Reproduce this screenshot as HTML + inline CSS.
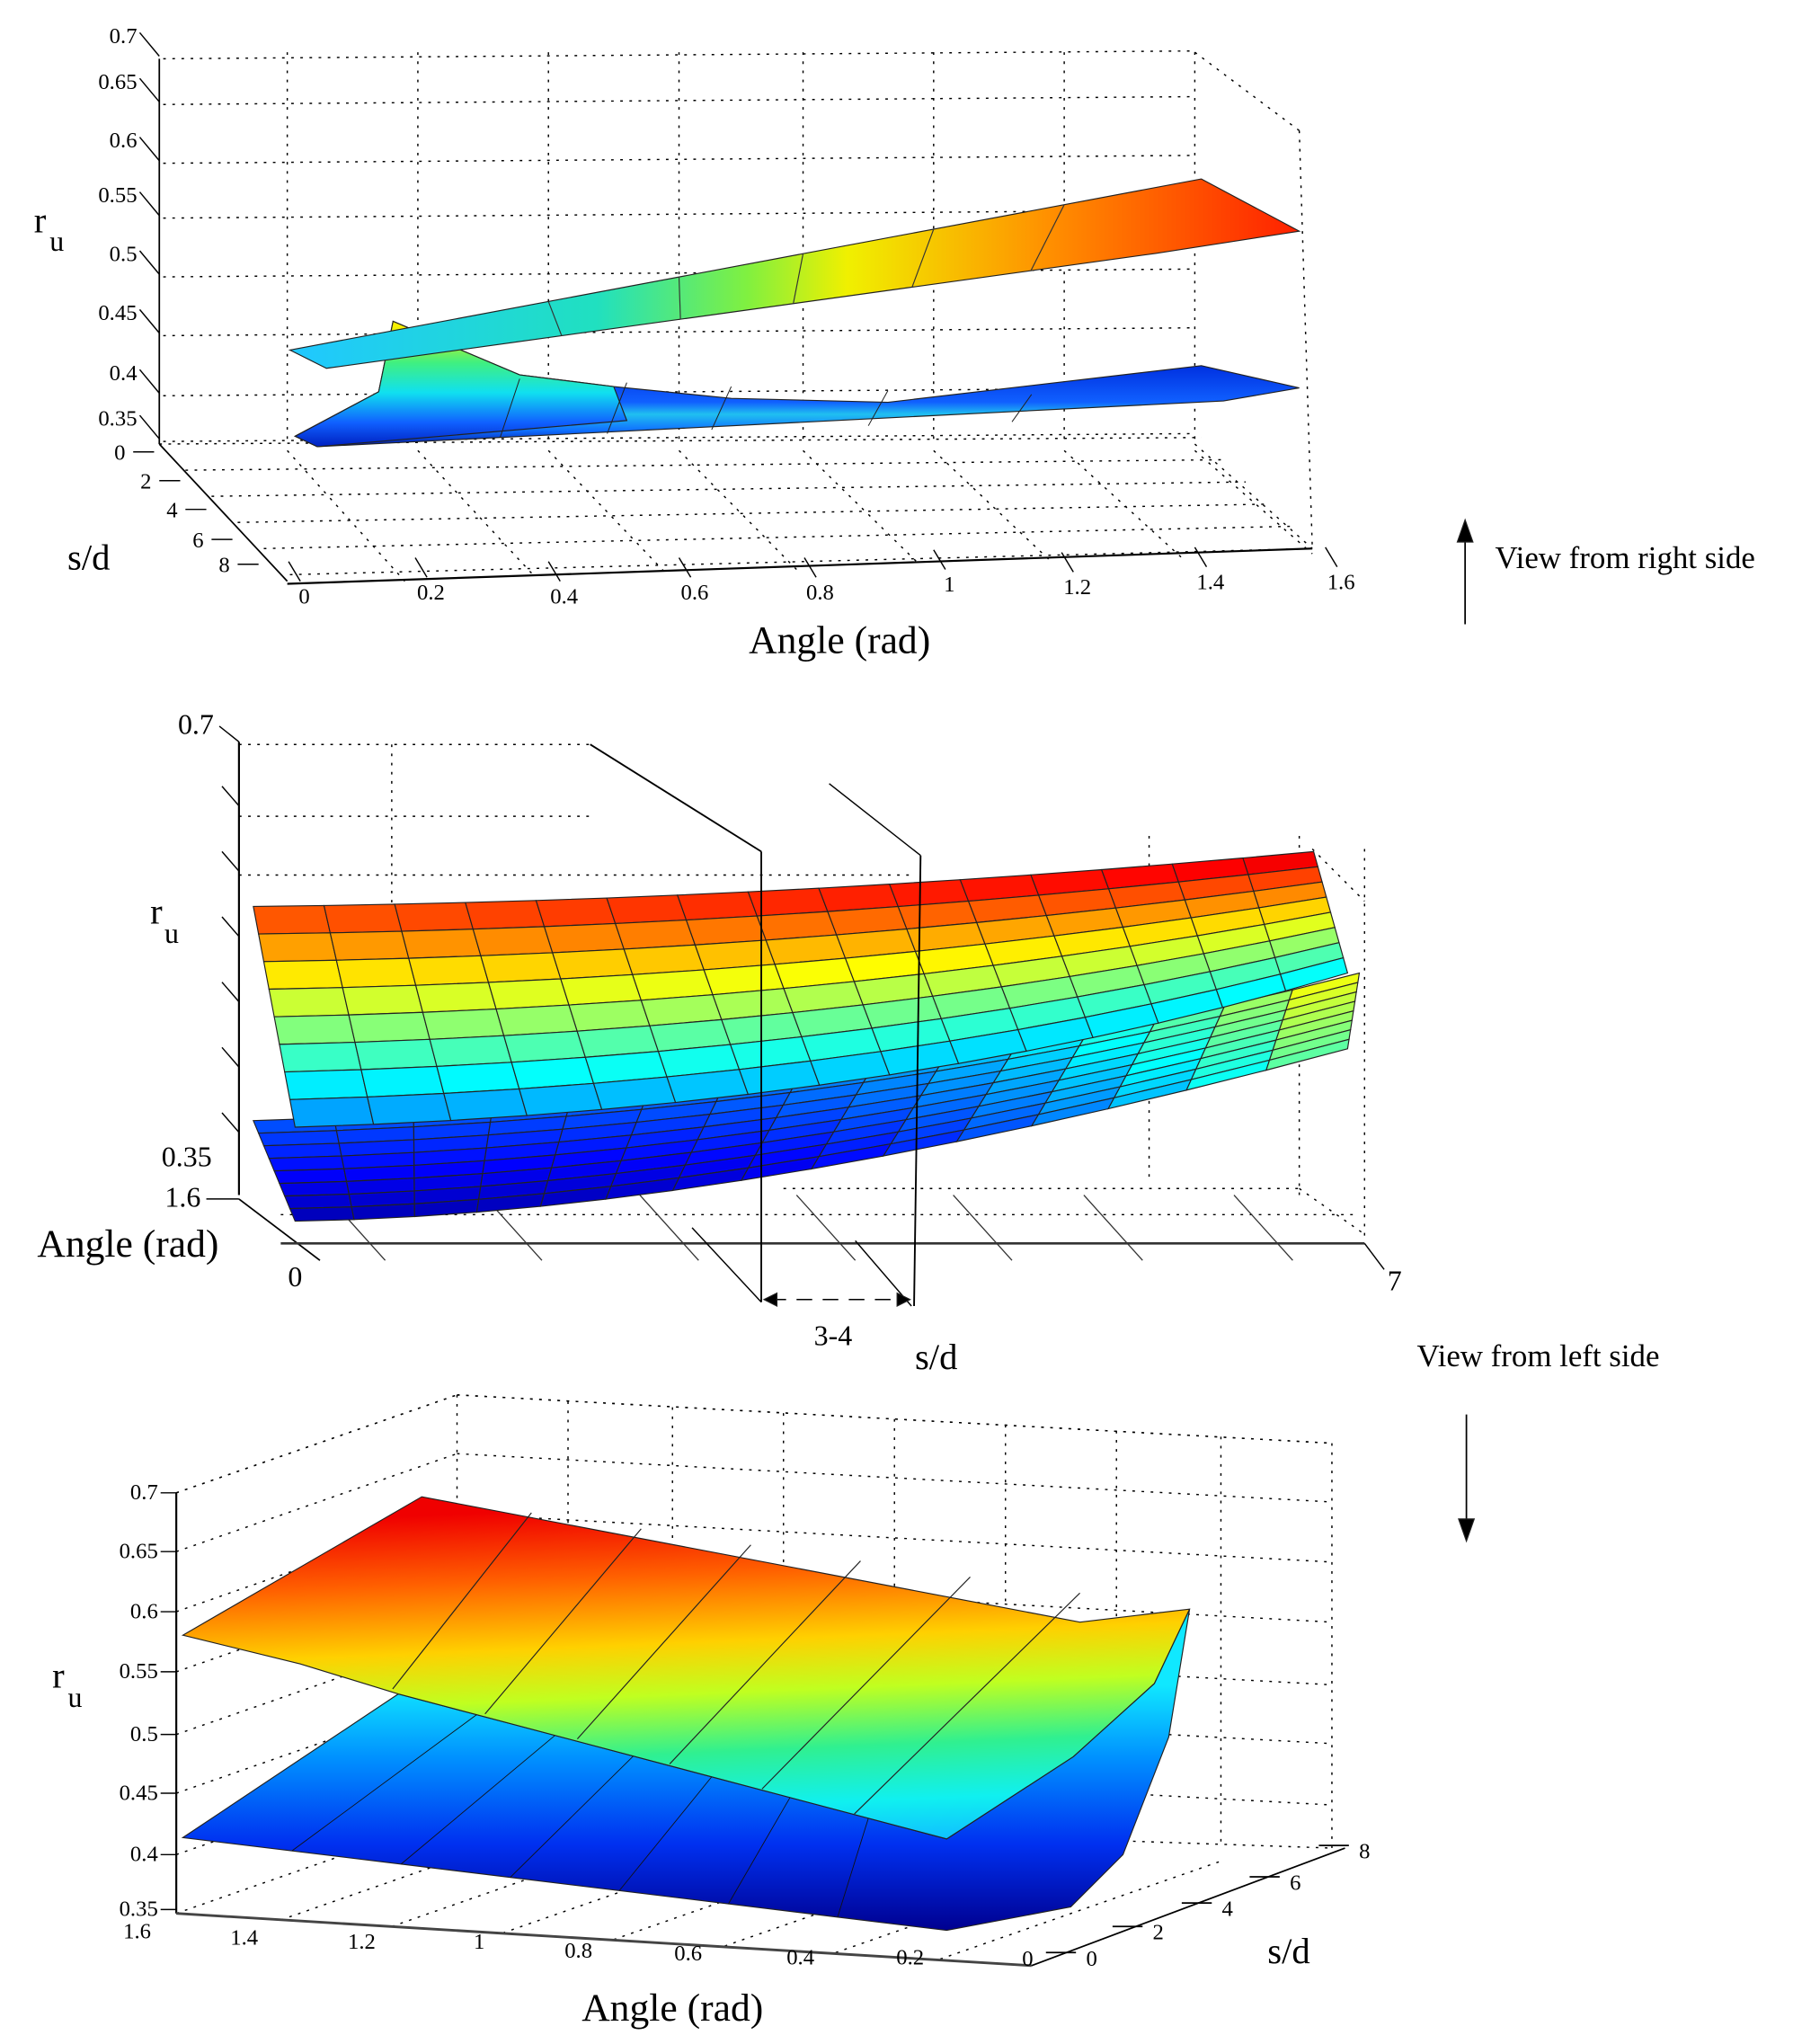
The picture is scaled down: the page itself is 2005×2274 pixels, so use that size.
<!DOCTYPE html>
<html><head><meta charset="utf-8"><style>
html,body{margin:0;padding:0;background:#fff}
svg{display:block}
text{font-family:"Liberation Serif",serif;fill:#000}
</style></head><body>
<svg id="s" width="2005" height="2274" viewBox="0 0 1380 1565" preserveAspectRatio="none" xmlns="http://www.w3.org/2000/svg">
<defs>
<linearGradient id="g1" x1="226" y1="0" x2="995" y2="0" gradientUnits="userSpaceOnUse">
<stop offset="0" stop-color="#20c8ff"/><stop offset="0.3" stop-color="#20e0c0"/><stop offset="0.45" stop-color="#80f040"/><stop offset="0.55" stop-color="#f0f000"/><stop offset="0.75" stop-color="#ff9000"/><stop offset="1" stop-color="#ff2000"/></linearGradient>
<linearGradient id="g2" x1="0" y1="250" x2="0" y2="342" gradientUnits="userSpaceOnUse">
<stop offset="0" stop-color="#f8f000"/><stop offset="0.3" stop-color="#40f080"/><stop offset="0.55" stop-color="#10e0f0"/><stop offset="0.8" stop-color="#1060ff"/><stop offset="1" stop-color="#0020c0"/></linearGradient>
<linearGradient id="g2b" x1="0" y1="280" x2="0" y2="342" gradientUnits="userSpaceOnUse">
<stop offset="0" stop-color="#0030e0"/><stop offset="0.45" stop-color="#1060ff"/><stop offset="0.6" stop-color="#20c0f0"/><stop offset="0.8" stop-color="#1070ff"/><stop offset="1" stop-color="#0010a0"/></linearGradient>
<linearGradient id="g3" x1="330" y1="1160" x2="341" y2="1424" gradientUnits="userSpaceOnUse">
<stop offset="0" stop-color="#f00000"/><stop offset="0.2" stop-color="#ff6000"/><stop offset="0.4" stop-color="#ffd000"/><stop offset="0.55" stop-color="#c0ff20"/><stop offset="0.72" stop-color="#30f090"/><stop offset="0.88" stop-color="#10f0f0"/><stop offset="1" stop-color="#10c0ff"/></linearGradient>
<linearGradient id="g4" x1="0" y1="1290" x2="0" y2="1478" gradientUnits="userSpaceOnUse">
<stop offset="0" stop-color="#10e8ff"/><stop offset="0.3" stop-color="#0090ff"/><stop offset="0.65" stop-color="#0030f0"/><stop offset="1" stop-color="#000090"/></linearGradient>
</defs>
<g id="grid" stroke="#555" stroke-width="0.8" stroke-dasharray="2,5" fill="none"></g>
<g id="main" font-size="17"></g>
</svg>
<script>
var S=document.getElementById('s'),G=document.getElementById('grid'),M=document.getElementById('main');
var NS='http://www.w3.org/2000/svg';
function el(p,t,a,txt){var e=document.createElementNS(NS,t);for(var k in a)e.setAttribute(k,a[k]);if(txt!==undefined)e.textContent=txt;p.appendChild(e);return e;}
function L(p,x1,y1,x2,y2,w,c){el(p,'line',{x1:x1,y1:y1,x2:x2,y2:y2,stroke:c||'#000','stroke-width':w||1});}
function T(x,y,s,fs,anc){return el(M,'text',{x:x,y:y,'font-size':fs||17,'text-anchor':anc||'middle'},s);}
function P(pts,fill,p,sw){el(p||M,'polygon',{points:pts.map(function(q){return q.join(',')}).join(' '),fill:fill,stroke:'#222','stroke-width':sw===undefined?0.8:sw});}
function jet(v){v=Math.max(0,Math.min(1,v));function c(x){return Math.round(255*Math.max(0,Math.min(1,x)));}
return 'rgb('+c(1.5-Math.abs(4*v-3))+','+c(1.5-Math.abs(4*v-2))+','+c(1.5-Math.abs(4*v-1))+')';}
// ===== PANEL 1 =====
var zl=[[0.7,33],[0.65,68],[0.6,113],[0.55,155],[0.5,200],[0.45,245],[0.4,291],[0.35,326]];
zl.forEach(function(z){T(105,z[1],z[0],17,'end');L(M,107,z[1]-8,122,z[1]+10,1);L(G,125,z[1]+12,915,z[1]+6);});
L(M,122,45,122,340,1.2);
[220,320,420,520,615,715,815,915].forEach(function(x){L(G,x,40,x,340);});
L(G,915,40,995,100);L(G,995,100,1005,420);L(G,915,340,1005,420);
for(var i=0;i<6;i++){L(G,122+20*i,340+20*i,920+17*i,335+17*i);}
[220,320,420,520,615,715,815,915].forEach(function(x,i){L(G,x,345,x+90,445-i*3);});
L(M,122,340,220,445,1.2);L(M,220,447,1005,420,1.5);
[['0',348],['2',370],['4',392],['6',415],['8',434]].forEach(function(a,i){T(96+i*20,a[1]+4,a[0],17,'end');L(M,102+i*20,a[1]-2,118+i*20,a[1]-2,1);});
[['0',233,462],['0.2',330,459],['0.4',432,462],['0.6',532,459],['0.8',628,459],['1',727,453],['1.2',825,455],['1.4',927,451],['1.6',1027,451]].forEach(function(a){T(a[1],a[2],a[0],17);L(M,a[1]-12,a[2]-32,a[1]-3,a[2]-17,1);});
T(68,436,'s/d',28);T(643,500,'Angle (rad)',30);
el(M,'text',{x:26,y:178,'font-size':28},'r');el(M,'text',{x:38,y:192,'font-size':22},'u');
P([[226,334],[290,300],[301,246],[398,287],[470,296],[560,305],[680,308],[920,280],[995,297],[937,307],[243,342]],'url(#g2b)');
P([[226,334],[290,300],[301,246],[398,287],[470,296],[480,322],[243,342]],'url(#g2)');
[398,480,560,680,790].forEach(function(x,i){L(M,x,290+i*3,x-15,335-i*3,0.7,'#222');});
P([[222,268],[920,137],[995,177],[885,194],[250,282]],'url(#g1)');
[420,520,615,715,815].forEach(function(x){var t=(x-222)/(920-222);L(M,222+t*698,268-t*131,250+t*635,282-t*88,0.8,'#333');});
L(M,1122,478,1122,410,1.2);P([[1116,415],[1122,398],[1128,415]],'#000');
T(1145,435,'View from right side',24,'start');
// ===== PANEL 2 =====
T(150,562,'0.7',22);L(M,168,556,183,568,1);L(M,183,568,183,915,1.5);
[612,662,712,762,812,862].forEach(function(y){L(M,170,y-10,183,y+5,1);});
L(G,183,570,455,570);L(G,183,625,455,625);L(G,183,670,700,670);
L(G,300,570,300,930);L(G,880,640,880,905);L(G,995,640,995,915);
L(G,600,910,995,910);L(G,215,930,1040,930);L(G,1005,650,1045,690);L(G,995,910,1045,945);L(G,1045,650,1045,950);
[300,420,540,660,780,880,995].forEach(function(x){L(M,x-50,915,x-5,965,0.9,'#333');});
T(143,893,'0.35',22);T(140,924,'1.6',22);L(M,158,918,183,918,1);
el(M,'text',{x:115,y:707,'font-size':28},'r');el(M,'text',{x:126,y:722,'font-size':22},'u');
T(98,962,'Angle (rad)',30);L(M,183,918,245,965,1.2);L(M,215,952,1045,952,1.8,'#333');L(M,1045,952,1060,972,1);
T(226,985,'0',22);T(1068,988,'7',22);
function lerp(a,b,t){return [a[0]+(b[0]-a[0])*t,a[1]+(b[1]-a[1])*t];}
function quad(a,b,c,t){var u=1-t;return [u*u*a[0]+2*u*t*b[0]+t*t*c[0],u*u*a[1]+2*u*t*b[1]+t*t*c[1]];}
var Lt=[[194,858],[660,845],[1041,745]],Lb=[[226,935],[560,930],[1032,803]];
var NC=15,NR=8;
for(var c=0;c<NC;c++)for(var r=0;r<NR;r++){
 var t0=c/NC,t1=(c+1)/NC;
 var a0=quad(Lt[0],Lt[1],Lt[2],t0),a1=quad(Lt[0],Lt[1],Lt[2],t1),b0=quad(Lb[0],Lb[1],Lb[2],t0),b1=quad(Lb[0],Lb[1],Lb[2],t1);
 var p=[lerp(a0,b0,r/NR),lerp(a1,b1,r/NR),lerp(a1,b1,(r+1)/NR),lerp(a0,b0,(r+1)/NR)];
 var v=0.2-r*0.02+Math.pow(t0,3)*0.5; P(p,jet(v));}
var Ut=[[194,694],[600,690],[1006,652]],Ub=[[226,863],[680,850],[1032,745]];
for(var c=0;c<NC;c++)for(var r=0;r<NR;r++){
 var t0=c/NC,t1=(c+1)/NC;
 var a0=quad(Ut[0],Ut[1],Ut[2],t0),a1=quad(Ut[0],Ut[1],Ut[2],t1),b0=quad(Ub[0],Ub[1],Ub[2],t0),b1=quad(Ub[0],Ub[1],Ub[2],t1);
 var p=[lerp(a0,b0,r/NR),lerp(a1,b1,r/NR),lerp(a1,b1,(r+1)/NR),lerp(a0,b0,(r+1)/NR)];
 var v=0.79-r*0.072+t0*0.1; P(p,jet(v));}
L(M,452,570,583,652,1.3);L(M,583,652,583,997,1.3);L(M,635,600,705,655,1);L(M,705,655,700,1000,1.3);
L(M,530,940,583,997,1);L(M,655,950,698,1000,1);
el(M,'line',{x1:590,y1:995,x2:692,y2:995,stroke:'#000','stroke-width':1,'stroke-dasharray':'12,8'});
P([[585,995],[595,990],[595,1000]],'#000');P([[697,995],[687,990],[687,1000]],'#000');
T(638,1030,'3-4',22);T(717,1048,'s/d',28);T(1178,1046,'View from left side',24);
// ===== PANEL 3 =====
L(G,135,1143,350,1068);L(G,350,1068,1020,1105);L(G,1020,1105,1020,1415);L(G,350,1068,350,1390);
[435,515,600,685,770,855,935].forEach(function(x,i){var y=1073+i*4.5;L(G,x,y,x,1395+i*3);});
[1143,1188,1234,1280,1328,1373,1420].forEach(function(y,i){L(G,135,y,350,y-75);L(G,350,y-75,1020,y-38);});
[[135,1465],[215,1470],[300,1475],[385,1480],[470,1485],[555,1490],[640,1495],[720,1500]].forEach(function(a){L(G,a[0],a[1],a[0]+215,a[1]-75);});
L(G,350,1392,1020,1415);
[[0.7,1148],[0.65,1193],[0.6,1239],[0.55,1285],[0.5,1333],[0.45,1378],[0.4,1425],[0.35,1467]].forEach(function(z){T(121,z[1],z[0],17,'end');L(M,123,z[1]-5,135,z[1]-5,1);});
L(M,135,1143,135,1465,1.5);
el(M,'text',{x:40,y:1292,'font-size':28},'r');el(M,'text',{x:52,y:1307,'font-size':22},'u');
P([[140,1407],[305,1297],[725,1408],[822,1345],[884,1289],[911,1232],[895,1330],[860,1420],[820,1460],[725,1478]],'url(#g4)');
P([[140,1252],[323,1146],[827,1242],[911,1232],[884,1289],[822,1345],[725,1408],[305,1297],[230,1274]],'url(#g3)');
for(var i=1;i<7;i++){var t=i/7;L(M,323+t*(911-323),1146+t*(1232-1146),230+t*(725-230),1274+t*(1408-1274),0.8,'#222');}
for(var i=1;i<7;i++){var t=i/7;L(M,140+t*(725-140),1407+t*(1478-1407),305+t*(725-305),1297+t*(1408-1297),0.6,'#111');}
L(M,135,1465,790,1505,2,'#444');L(M,790,1505,1030,1415,1.2);
[['1.6',105,1484],['1.4',187,1489],['1.2',277,1492],['1',367,1492],['0.8',443,1499],['0.6',527,1501],['0.4',613,1504],['0.2',697,1504],['0',787,1505]].forEach(function(a,i){T(a[1],a[2],a[0],17);});
[['0',836,1505],['2',887,1485],['4',940,1467],['6',992,1447],['8',1045,1423]].forEach(function(a,i){T(a[1],a[2],a[0],17);L(M,a[1]-35,a[2]-10,a[1]-12,a[2]-10,1.2);});
T(987,1503,'s/d',28);T(515,1547,'Angle (rad)',30);
L(M,1123,1083,1123,1165,1.2);P([[1117,1163],[1123,1180],[1129,1163]],'#000');
</script>
</body></html>
